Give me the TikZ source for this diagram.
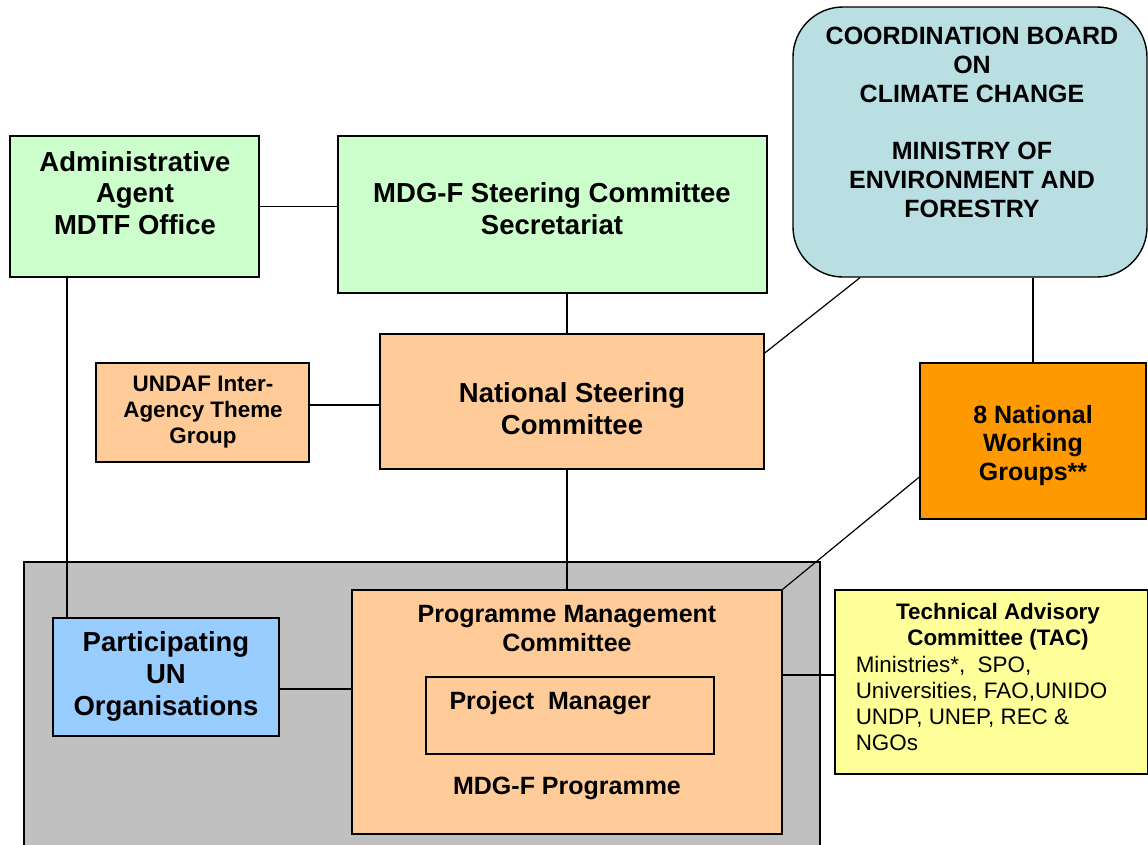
\documentclass[tikz,border=0pt]{standalone}
\usepackage{fontspec}
\setmainfont{Liberation Sans}
\usepackage{tikz}

\definecolor{adminGreen}{HTML}{CCFFCC}
\definecolor{boardBlue}{RGB}{185,223,227}
\definecolor{peach}{HTML}{FFCC99}
\definecolor{workOrange}{HTML}{FF9900}
\definecolor{progGrey}{HTML}{C0C0C0}
\definecolor{unBlue}{HTML}{99CCFF}
\definecolor{tacYellow}{HTML}{FFFF99}

\tikzset{
  box/.style={draw, line width=1.4pt, inner sep=0pt},
  link/.style={line width=1.2pt},
  bigtext/.style={font=\fontsize{27.5}{31.8}\selectfont\bfseries, align=center},
  midtext/.style={font=\fontsize{25}{28.8}\selectfont\bfseries, align=center},
  smalltext/.style={font=\fontsize{22.4}{25.8}\selectfont\bfseries, align=center},
}

\begin{document}
\begin{tikzpicture}[x=1pt,y=-1pt]
   \useasboundingbox (0,0) rectangle (1148,844);

   % boxes
   \node[box, fill=progGrey, minimum width=796pt, minimum height=288pt] (prog) at (422,706) {};
   \node[box, fill=adminGreen, minimum width=249pt, minimum height=141pt] (admin) at (134.5,206.5) {};
   \node[box, fill=adminGreen, minimum width=429pt, minimum height=157pt] (secr) at (552.5,214.5) {};
   \node[box, fill=boardBlue, rounded corners=50pt, minimum width=354pt, minimum height=270pt] (board) at (970,142) {};
   \node[box, fill=peach, minimum width=213pt, minimum height=99pt] (undaf) at (202.5,412.5) {};
   \node[box, fill=peach, minimum width=384pt, minimum height=135pt] (nsc) at (572,401.5) {};
   \node[box, fill=workOrange, minimum width=226pt, minimum height=156pt] (nwg) at (1033,441) {};
   \node[box, fill=unBlue, minimum width=226pt, minimum height=118pt] (part) at (166,677) {};
   \node[box, fill=peach, minimum width=430pt, minimum height=244pt] (pmc) at (567,712) {};
   \node[box, minimum width=288pt, minimum height=77pt] (pm) at (570,715.5) {};
   \node[box, fill=tacYellow, minimum width=313pt, minimum height=184pt] (tac) at (991.5,682) {};

   % texts
   \node[bigtext] (adminTxt) at (135,193) {Administrative\\Agent\\MDTF Office};
   \node[bigtext] (secrTxt) at (552,209) {MDG-F Steering Committee\\Secretariat};
   \node[midtext] (boardTxt) at (972,122.5) {COORDINATION BOARD\\ON\\CLIMATE CHANGE\\[28.8pt]MINISTRY OF\\ENVIRONMENT AND\\FORESTRY};
   \node[smalltext] (undafTxt) at (203,412) {UNDAF Inter-\\Agency Theme\\Group};
   \node[bigtext] (nscTxt) at (572,409) {National Steering\\Committee};
   \node[midtext] (nwgTxt) at (1033,445.5) {8 National\\Working\\Groups**};
   \node[bigtext] (partTxt) at (166,676.5) {Participating\\UN\\Organisations};
   \node[midtext] (pmcTxt) at (567,628.5) {Programme Management\\Committee};
   \node[midtext, anchor=west] (pmTxt) at (446,703) {Project\ \ Manager};
   \node[midtext] (progTxt) at (567,788) {MDG-F Programme};
   \node[smalltext] (tacTxt) at (998,626.5) {Technical Advisory\\Committee (TAC)};
   \node[smalltext, font=\fontsize{22.4}{25.8}\selectfont, align=left] (tacList) at (981.5,703.5)
      {Ministries*,\ \ SPO,\\Universities, FAO,UNIDO\\UNDP, UNEP, REC \&\\NGOs};

   % links
   \draw[link] (admin.east) -- (admin.east -| secr.west);
   \draw[link] (pmc.north |- secr.south) -- (pmc.north |- nsc.north);
   \draw[link] (nsc.south -| pmc.north) -- (pmc.north);
   \draw[link] ([yshift=48.5pt]nsc.east) -- ([xshift=-110pt]board.south);
   \draw[link] (nwg.north |- board.south) -- (nwg.north);
   \draw[link] ([yshift=-3.5pt]nsc.west -| undaf.east) -- ([yshift=-3.5pt]nsc.west);
   \draw[link] ([xshift=-67.5pt]admin.south) -- ([xshift=-67.5pt]admin.south |- part.north);
   \draw[link] ([yshift=-12pt]part.east) -- ([yshift=-12pt]part.east -| pmc.west);
   \draw[link] ([yshift=37pt]pmc.east) -- ([yshift=37pt]pmc.east -| tac.west);
   \draw[link] ([yshift=-36pt]nwg.west) -- (pmc.north east);
\end{tikzpicture}
\end{document}
